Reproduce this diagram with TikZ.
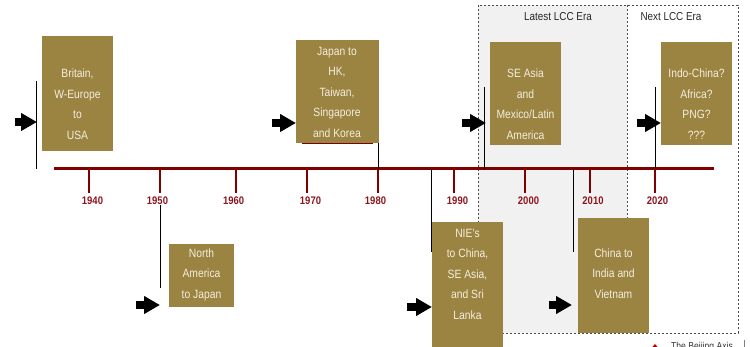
\documentclass[tikz,border=0pt]{standalone}
\usepackage{fontspec}
\setmainfont{Liberation Sans}[FakeStretch=0.86]
\usepackage{xcolor}
\usetikzlibrary{arrows.meta,shapes.geometric}

\definecolor{gold}{RGB}{155,131,65}
\definecolor{cream}{RGB}{244,238,222}
\definecolor{maroon}{RGB}{128,0,0}
\definecolor{yearred}{RGB}{140,20,30}
\definecolor{eragray}{RGB}{241,241,241}

\tikzset{
  gbox/.style={fill=gold, inner sep=0, anchor=north west},
  boxtxt/.style={text=cream, align=center, inner sep=0, font=\fontsize{12}{20.5}\selectfont},
  year/.style={text=yearred, inner sep=0, font=\bfseries\fontsize{11}{12}\selectfont},
  eralbl/.style={text=black!85, inner sep=0, font=\fontsize{11.5}{12}\selectfont},
  stem/.style={black, line width=0.8pt},
  fat/.style={line width=8pt, -{Triangle[length=16pt,width=17pt]}},
  eraline/.style={black!70, line width=0.6pt, dash pattern=on 2pt off 2pt}
}

\begin{document}
\begin{tikzpicture}[x=1pt,y=-1pt]
    \useasboundingbox (0,0) rectangle (750,347);

    % LCC eras
    \fill[eragray] (478,5) rectangle (627,333);
    \draw[eraline] (478,5) rectangle (738,333);
    \draw[eraline] (627,5) -- (627,333);
    \node[eralbl] (latest) at (558,17) {Latest LCC Era};
    \node[eralbl] (next) at (671,17) {Next LCC Era};

    % Timeline
    \coordinate (tl-w) at (54,169);
    \coordinate (tl-e) at (714,169);
    \draw[maroon, line width=3pt] (tl-w) -- (tl-e);
    \foreach \yr/\tx/\lx in {1940/89/92.5, 1950/160/157.5, 1960/236/233.7, 1970/307/310.5,
        1980/378/375.5, 1990/454/457.5, 2000/525/528.5, 2010/590/593, 2020/655/657.5} {
        \draw[maroon, line width=2.5pt] (\tx,169) -- (\tx,193);
        \node[year] (y\yr) at (\lx,200.5) {\yr};
    }

    % Above the line
    \coordinate (s-brit) at (36,81);
    \draw[stem] (s-brit) -- (s-brit |- tl-w);
    \node[gbox, minimum width=71pt, minimum height=115pt] (brit) at (42,36) {};
    \node[boxtxt] (brit-t) at (77.5,104) {Britain,\\W-Europe\\to\\USA};
    \coordinate (a-brit) at (15,122);
    \draw[fat] (a-brit) -- ++(22,0);

    \draw[maroon, line width=1pt] (302,144) -- (373,144);
    \node[gbox, minimum width=83pt, minimum height=103pt] (japan) at (296,40) {};
    \node[boxtxt] (japan-t) at (337,92) {Japan to\\HK,\\Taiwan,\\Singapore\\and Korea};
    \coordinate (s-japan) at (378,143);
    \draw[stem] (s-japan) -- (s-japan |- tl-w);
    \coordinate (a-japan) at (272,123);
    \draw[fat] (a-japan) -- ++(24,0);

    \coordinate (s-sea) at (484,87);
    \draw[stem] (s-sea) -- (s-sea |- tl-w);
    \node[gbox, minimum width=71pt, minimum height=103pt] (sea) at (490,42) {};
    \node[boxtxt] (sea-t) at (525.5,104) {SE Asia\\and\\Mexico/Latin\\America};
    \coordinate (a-sea) at (462,123);
    \draw[fat] (a-sea) -- ++(24,0);

    \coordinate (s-indo) at (655,87);
    \draw[stem] (s-indo) -- (s-indo |- tl-w);
    \node[gbox, minimum width=71pt, minimum height=103pt] (indo) at (661,42) {};
    \node[boxtxt] (indo-t) at (696.5,104) {Indo-China?\\Africa?\\PNG?\\???};
    \coordinate (a-indo) at (637,123);
    \draw[fat] (a-indo) -- ++(24,0);

    % Below the line
    \coordinate (s-na) at (160,205);
    \draw[stem] (s-na) -- (160,288);
    \node[gbox, minimum width=65pt, minimum height=63pt] (na) at (169,244) {};
    \node[boxtxt] (na-t) at (201.5,274.5) {North\\America\\to Japan};
    \coordinate (a-na) at (136,305);
    \draw[fat] (a-na) -- ++(24,0);

    \coordinate (s-nie) at (431,169);
    \draw[stem] (s-nie) -- (431,252);
    \node[gbox, minimum width=71pt, minimum height=130pt] (nie) at (432,222) {};
    \node[boxtxt] (nie-t) at (467.5,274) {NIE's\\to China,\\SE Asia,\\and Sri\\Lanka};
    \coordinate (a-nie) at (407,307);
    \draw[fat] (a-nie) -- ++(25,0);

    \coordinate (s-china) at (573,169);
    \draw[stem] (s-china) -- (573,252);
    \node[gbox, minimum width=71pt, minimum height=115pt] (china) at (578,218) {};
    \node[boxtxt] (china-t) at (613.5,273.5) {China to\\India and\\Vietnam};
    \coordinate (a-china) at (549,305);
    \draw[fat] (a-china) -- ++(23,0);

    % Source
    \node[star, star points=5, fill=red!70!black, minimum size=14pt, inner sep=0] (logo) at (655,351) {};
    \node[anchor=north west, inner sep=0, text=black!80, font=\fontsize{10}{12}\selectfont] (brand) at (671,342.5) {The Beijing Axis};
    \draw[black!50, line width=0.5pt] (744,340) -- (744,347);
\end{tikzpicture}
\end{document}
